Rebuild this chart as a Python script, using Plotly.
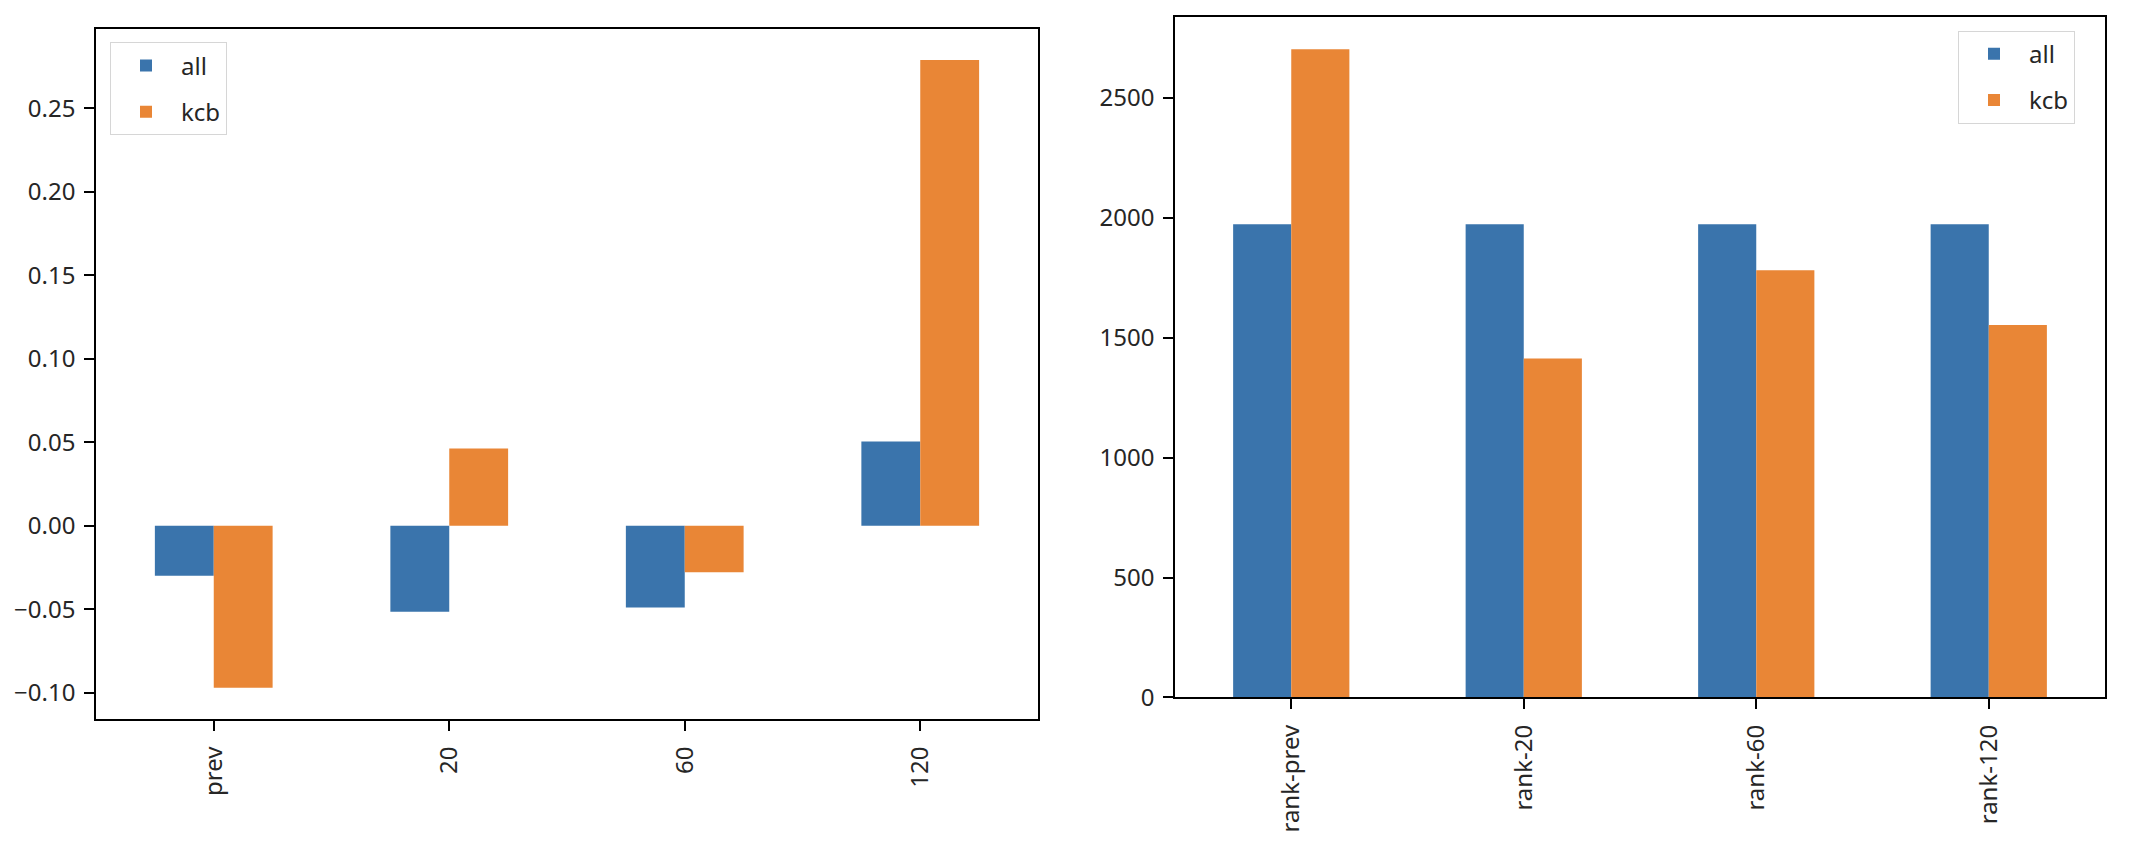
import plotly.graph_objects as go

# ---- data ----
left_categories = ["prev", "20", "60", "120"]
left_all = [-0.030, -0.0515, -0.049, 0.0505]
left_kcb = [-0.097, 0.0463, -0.0278, 0.279]

right_categories = ["rank-prev", "rank-20", "rank-60", "rank-120"]
right_all = [1973, 1973, 1973, 1973]
right_kcb = [2703, 1414, 1781, 1553]

series_names = ["all", "kcb"]
left_ticks = [-0.10, -0.05, 0.00, 0.05, 0.10, 0.15, 0.20, 0.25]
right_ticks = [0, 500, 1000, 1500, 2000, 2500]

BLUE = "#3a74ac"
ORANGE = "#e98636"
PAGE_W, PAGE_H = 2146, 858
OFF = 8  # default page body margin
W, H = PAGE_W - 2 * OFF, PAGE_H - 2 * OFF
FONT = "Noto Sans"
FS = 24
TXT = "#262626"


def px(xp):
    return (xp - OFF) / W


def py(yp):
    return 1 - (yp - OFF) / H


fig = go.Figure()

for names, cats, vals, colors, ax, ay, lg in [
    (series_names, left_categories, [left_all, left_kcb], [BLUE, ORANGE], "x", "y", "legend"),
    (series_names, right_categories, [right_all, right_kcb], [BLUE, ORANGE], "x2", "y2", "legend2"),
]:
    for i, (nm, v, c) in enumerate(zip(names, vals, colors)):
        fig.add_trace(go.Bar(x=cats, y=v, name=nm,
                             marker=dict(color=c, line=dict(width=0)),
                             xaxis=ax, yaxis=ay, legend=lg,
                             legendgroup=f"{lg}-{nm}"))

lmin = min(left_all + left_kcb)
lmax = max(left_all + left_kcb)
pad = (lmax - lmin) * 0.05
rmax = max(right_all + right_kcb) * 1.05

axis_common = dict(showline=True, linecolor="black", linewidth=1.5, mirror=True,
                   ticks="outside", ticklen=10, tickwidth=1.5, tickcolor="black",
                   showgrid=False, zeroline=False,
                   tickfont=dict(family=FONT, size=FS, color=TXT))

legend_common = dict(xanchor="left", yanchor="top",
                     bgcolor="rgba(255,255,255,0.8)", bordercolor="#d6d6d6",
                     borderwidth=1, tracegroupgap=12, itemwidth=60,
                     font=dict(family=FONT, size=FS, color=TXT))

fig.update_layout(
    width=W, height=H,
    margin=dict(l=0, r=0, t=0, b=0),
    paper_bgcolor="white", plot_bgcolor="white",
    barmode="group", bargap=0.5, bargroupgap=0,
    font=dict(family=FONT, size=FS, color=TXT),
    xaxis=dict(domain=[px(96), px(1038)], anchor="y", type="category",
               range=[-0.5, 3.5], tickangle=-90, ticklabelstandoff=6, **axis_common),
    yaxis=dict(domain=[py(732), py(29)], anchor="x",
               range=[lmin - pad, lmax + pad], tickvals=left_ticks,
               tickformat=".2f", ticklabelstandoff=4, **axis_common),
    xaxis2=dict(domain=[px(1175), px(2105)], anchor="y2", type="category",
                range=[-0.5, 3.5], tickangle=-90, ticklabelstandoff=6, **axis_common),
    yaxis2=dict(domain=[py(710), py(17)], anchor="x2",
                range=[0, rmax], tickvals=right_ticks, ticklabelstandoff=4,
                **axis_common),
    legend=dict(x=px(110), y=py(43), **legend_common),
    legend2=dict(x=px(1958), y=py(31), **legend_common),
)

fig.write_html("out.html")
